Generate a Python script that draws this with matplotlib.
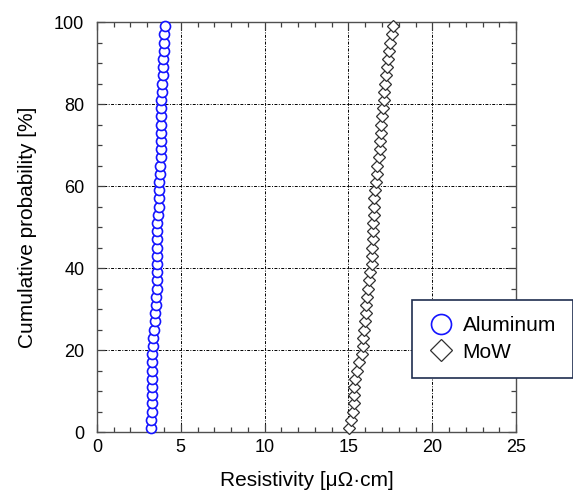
import numpy as np
import matplotlib.pyplot as plt
from matplotlib.ticker import MultipleLocator

plt.rcParams['font.family'] = ['Liberation Sans', 'Noto Sans CJK JP', 'DejaVu Sans']

# cumulative probability [%]
prob = [1, 3, 5, 7, 9, 11, 13, 15, 17, 19,
        21, 23, 25, 27, 29, 31, 33, 35, 37, 39,
        41, 43, 45, 47, 49, 51, 53, 55, 57, 59,
        61, 63, 65, 67, 69, 71, 73, 75, 77, 79,
        81, 83, 85, 87, 89, 91, 93, 95, 97, 99]

# resistivity [uOhm cm]
aluminum = [3.25, 3.25, 3.26, 3.26, 3.26, 3.27, 3.27, 3.27, 3.28, 3.29,
            3.33, 3.36, 3.40, 3.45, 3.48,
            3.54, 3.55, 3.56, 3.56, 3.57, 3.57, 3.58, 3.58, 3.59, 3.59, 3.60, 3.62,
            3.70, 3.71, 3.72, 3.73, 3.74, 3.75,
            3.80, 3.81, 3.82, 3.82, 3.83, 3.83, 3.84, 3.85, 3.86, 3.87,
            3.92, 3.94, 3.96,
            4.02, 4.03, 4.03, 4.04]

mow = [15.03, 15.15,
       15.28, 15.30, 15.32, 15.34, 15.36,
       15.50, 15.60,
       15.78, 15.84,
       15.88, 15.92, 15.96,
       16.02, 16.06, 16.10, 16.14,
       16.24, 16.30,
       16.38, 16.40, 16.42, 16.44, 16.46, 16.48, 16.50, 16.52, 16.54,
       16.60, 16.64, 16.68, 16.72,
       16.82, 16.86, 16.90, 16.93, 16.96, 16.99,
       17.06, 17.10, 17.14, 17.18,
       17.26, 17.30, 17.34, 17.40,
       17.50, 17.58, 17.68]

fig = plt.figure(figsize=(5.73, 4.90), dpi=100)
ax = fig.add_axes([0.169, 0.118, 0.732, 0.837])

ax.plot(aluminum, prob, 'o', ms=7.2, mfc='white', mec='#1414ff', mew=1.2,
        label='Aluminum', clip_on=False, zorder=3)
ax.plot(mow, prob, 'D', ms=5.8, mfc='white', mec='#303030', mew=0.9,
        label='MoW', clip_on=False, zorder=3)

ax.set_xlim(0, 25)
ax.set_ylim(0, 100)
ax.xaxis.set_major_locator(MultipleLocator(5))
ax.xaxis.set_minor_locator(MultipleLocator(1))
ax.yaxis.set_major_locator(MultipleLocator(20))
ax.yaxis.set_minor_locator(MultipleLocator(5))
ax.tick_params(which='both', direction='in', top=True, right=True, colors='#404040',
               labelcolor='black', labelsize=13)
ax.tick_params(which='major', length=6, width=0.9)
ax.tick_params(which='minor', length=3.5, width=0.9)
ax.tick_params(axis='x', pad=5)
ax.tick_params(axis='y', pad=9)
for s in ax.spines.values():
    s.set_color('#505050')
    s.set_linewidth(1.0)

ax.grid(True, which='major', color='black', linestyle=(0, (3, 1.5, 1, 1.5)), linewidth=0.7)

ax.set_xlabel('Resistivity [μΩ·cm]', fontsize=15, labelpad=11)
ax.set_ylabel('Cumulative probability [%]', fontsize=15, labelpad=12)

leg = fig.legend(loc='center', bbox_to_anchor=(0.859, 0.308), fontsize=15,
                 markerscale=2.0, frameon=True, fancybox=False, framealpha=1,
                 edgecolor='#1f2d4f', handletextpad=0.45, borderpad=0.8,
                 labelspacing=0.35, handlelength=1.2)
leg.get_frame().set_linewidth(1.2)

fig.savefig('out.png', dpi=100)
